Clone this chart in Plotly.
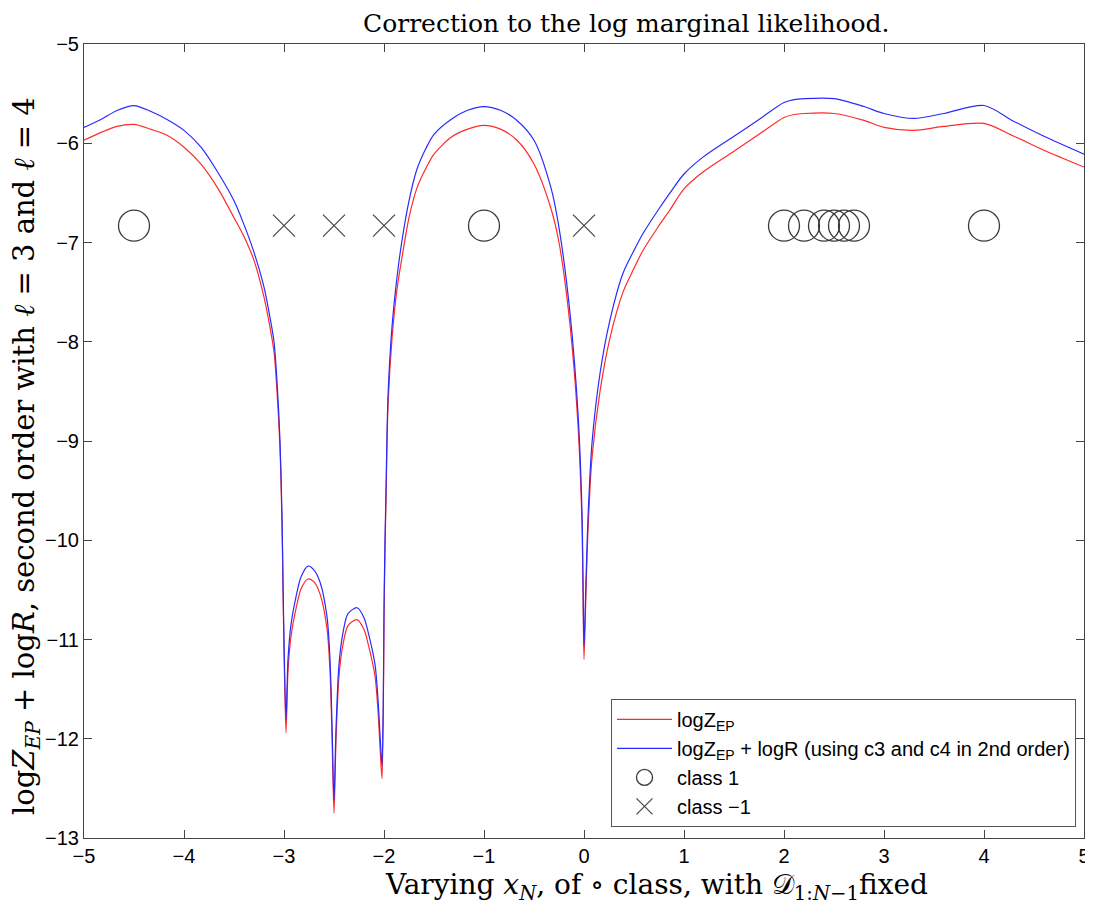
import plotly.graph_objects as go

# ---- data ----
x_grid = [-5.0, -4.83, -4.67, -4.5, -4.33, -4.17, -4.0, -3.83, -3.67, -3.5, -3.4, -3.3,
          -3.2, -3.15, -3.1, -3.07, -3.04, -3.02, -3.01, -3.0, -2.98, -2.96, -2.93, -2.88,
          -2.83, -2.76, -2.70, -2.64, -2.57, -2.54, -2.52, -2.50, -2.48, -2.45, -2.41, -2.36,
          -2.27, -2.20, -2.16, -2.09, -2.06, -2.035, -2.02, -2.007, -2.0, -1.99, -1.98, -1.96,
          -1.92, -1.87, -1.82, -1.75, -1.67, -1.58, -1.5, -1.33, -1.17, -1.0, -0.83, -0.67, -0.5,
          -0.33, -0.25, -0.14, -0.06, -0.02, -0.01, 0.0, 0.02, 0.04, 0.08, 0.16, 0.26,
          0.39, 0.5, 0.59, 0.75, 0.86, 1.0, 1.19, 1.5, 1.75, 2.0, 2.1, 2.2, 2.5,
          2.8, 3.0, 3.3, 3.6, 4.0, 4.3, 4.6, 5.0]

logz_ep_plus_logr = [-5.84, -5.76, -5.67, -5.62, -5.68, -5.76, -5.87, -6.04, -6.28, -6.58, -6.82, -7.10,
                     -7.45, -7.70, -8.00, -8.40, -9.00, -9.75, -10.40, -11.00, -11.81, -11.20, -10.85, -10.57,
                     -10.37, -10.26, -10.30, -10.42, -10.77, -11.20, -11.85, -12.62, -11.90, -11.25, -10.93, -10.74,
                     -10.68, -10.78, -10.92, -11.25, -11.60, -12.05, -12.27, -11.60, -10.70, -10.00, -9.50, -8.55,
                     -7.85, -7.35, -6.98, -6.58, -6.26, -6.05, -5.91, -5.76, -5.67, -5.63, -5.67, -5.77, -5.97,
                     -6.45, -6.85, -7.71, -8.72, -9.72, -10.40, -11.07, -10.40, -9.77, -9.02, -8.32, -7.78,
                     -7.31, -7.08, -6.91, -6.66, -6.50, -6.31, -6.14, -5.93, -5.76, -5.59, -5.56, -5.55, -5.55,
                     -5.63, -5.70, -5.75, -5.70, -5.62, -5.78, -5.93, -6.11]

logz_ep = [-5.97, -5.89, -5.83, -5.81, -5.86, -5.92, -6.04, -6.21, -6.44, -6.75, -6.94, -7.18,
           -7.55, -7.80, -8.10, -8.50, -9.08, -9.85, -10.50, -11.10, -11.94, -11.32, -10.97, -10.69,
           -10.49, -10.39, -10.42, -10.54, -10.89, -11.32, -11.97, -12.75, -12.02, -11.37, -11.05, -10.86,
           -10.80, -10.90, -11.04, -11.37, -11.72, -12.17, -12.40, -11.72, -10.82, -10.10, -9.60, -8.65,
           -7.97, -7.47, -7.15, -6.75, -6.45, -6.25, -6.11, -5.94, -5.86, -5.82, -5.86, -5.97, -6.21,
           -6.66, -7.00, -7.83, -8.84, -9.84, -10.52, -11.20, -10.52, -9.90, -9.17, -8.50, -7.96,
           -7.50, -7.26, -7.08, -6.83, -6.67, -6.46, -6.29, -6.08, -5.91, -5.74, -5.71, -5.70, -5.70,
           -5.77, -5.84, -5.87, -5.83, -5.80, -5.93, -6.07, -6.24]

class1_x = [-4.5, -1.0, 2.0, 2.2, 2.4, 2.5, 2.6, 2.7, 4.0]
class1_y = [-6.83] * len(class1_x)
classm1_x = [-3.0, -2.5, -2.0, 0.0]
classm1_y = [-6.83] * len(classm1_x)

x_ticks = [-5, -4, -3, -2, -1, 0, 1, 2, 3, 4, 5]
y_ticks = [-13, -12, -11, -10, -9, -8, -7, -6, -5]

title_text = "Correction to the log marginal likelihood."
xlabel_text = ("Varying <i>x</i><sub><i>N</i></sub>, of \u2218 class, with "
               "\U0001D49F<sub>1:<i>N</i>\u22121</sub>fixed")
ylabel_text = ("log<i>Z</i><sub><i>EP</i></sub> + log<i>R</i>, second order with "
               "<i>\u2113</i> = 3 and <i>\u2113</i> = 4")

fig = go.Figure()
fig.add_trace(go.Scatter(x=x_grid, y=logz_ep, mode="lines", name="logZ<sub>EP</sub>",
                         line=dict(color="#ff2a2a", width=1.2, shape="spline", smoothing=0.8)))
fig.add_trace(go.Scatter(x=x_grid, y=logz_ep_plus_logr, mode="lines",
                         name="logZ<sub>EP</sub> + logR (using c3 and c4 in 2nd order)",
                         line=dict(color="#2a2aff", width=1.2, shape="spline", smoothing=0.8)))
fig.add_trace(go.Scatter(x=class1_x, y=class1_y, mode="markers", name="class 1",
                         marker=dict(symbol="circle-open", size=31, color="#3a3a3a",
                                     line=dict(width=1.3, color="#3a3a3a"))))
fig.add_trace(go.Scatter(x=classm1_x, y=classm1_y, mode="markers", name="class \u22121",
                         marker=dict(symbol="x-thin-open", size=22, color="#4a4a4a",
                                     line=dict(width=1.3, color="#4a4a4a"))))

axis_common = dict(showline=True, mirror="ticks", linecolor="#444444", linewidth=1,
                   ticks="inside", ticklen=8, tickcolor="#444444", showgrid=False,
                   zeroline=False, automargin=False,
                   tickfont=dict(family="Liberation Sans, Arial", size=20, color="black"))

# the page body adds an 8 px offset, so the figure is 8 px smaller than the window
fig.update_layout(
    width=1085, height=897,
    paper_bgcolor="white", plot_bgcolor="white",
    margin=dict(l=76, r=9, t=36, b=67),
    xaxis=dict(range=[-5, 5], tickvals=x_ticks, **axis_common),
    yaxis=dict(range=[-13, -5], tickvals=y_ticks, **axis_common),
    legend=dict(x=0.992, xanchor="right", y=0.014, yanchor="bottom",
                bgcolor="white", bordercolor="#555555", borderwidth=1,
                font=dict(family="Liberation Sans, Arial", size=20, color="black"),
                itemwidth=55, tracegroupgap=0),
    showlegend=True,
    annotations=[
        dict(text=title_text, xref="paper", yref="paper", x=0.542, y=1.0252,
             xanchor="center", yanchor="middle", showarrow=False,
             font=dict(family="DejaVu Serif", size=25, color="black")),
        dict(text=xlabel_text, xref="paper", yref="paper", x=0.572, y=-0.0615,
             xanchor="center", yanchor="middle", showarrow=False,
             font=dict(family="DejaVu Serif", size=28, color="black")),
        dict(text=ylabel_text, xref="paper", yref="paper", x=-0.058, y=0.481,
             xanchor="center", yanchor="middle", showarrow=False, textangle=-90,
             font=dict(family="DejaVu Serif", size=29, color="black")),
    ],
)

fig.write_html("out.html")
